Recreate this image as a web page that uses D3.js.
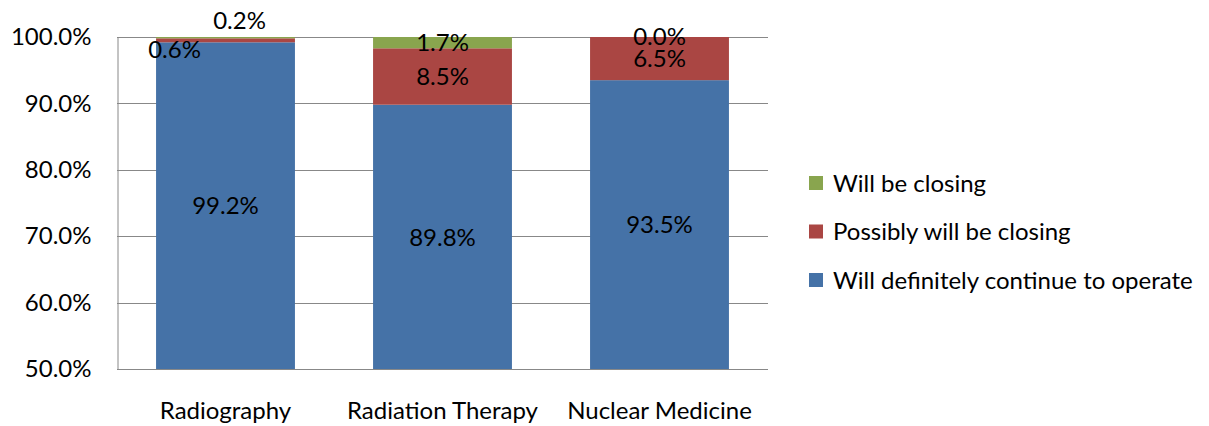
<!DOCTYPE html>
<html>
<head>
<meta charset="utf-8">
<script src="https://cdn.jsdelivr.net/npm/d3@7"></script>
<style>
  body { margin: 0; background: #fff; }
  svg text { font-family: Lato, "Open Sans", sans-serif; fill: #000; }
</style>
</head>
<body>
<div id="chart"></div>
<script>
// Stacked 100% bars, axis starts at 50%
const categories = ['Radiography', 'Radiation Therapy', 'Nuclear Medicine'];
const seriesNames = ['Will definitely continue to operate', 'Possibly will be closing', 'Will be closing'];
const continueVals = [99.2, 89.8, 93.5];
const possiblyVals = [0.6, 8.5, 6.5];
const closingVals = [0.2, 1.7, 0.0];
const yTicks = [50, 60, 70, 80, 90, 100];
const colors = ['#4572a7', '#aa4643', '#89a54e'];

const width = 1209, height = 426;
const margin = { top: 37, right: 441, bottom: 57, left: 117 };

const svg = d3.select('#chart')
  .append('svg')
  .attr('width', width)
  .attr('height', height);

const x = d3.scaleBand()
  .domain(categories)
  .range([margin.left, width - margin.right])
  .paddingInner(0.36)
  .paddingOuter(0.18);

const y = d3.scaleLinear()
  .domain([50, 100])
  .range([height - margin.bottom, margin.top]);

// gridlines
svg.append('g')
  .selectAll('line')
  .data(yTicks)
  .join('line')
  .attr('x1', margin.left)
  .attr('x2', width - margin.right)
  .attr('y1', d => Math.round(y(d)) + 0.5)
  .attr('y2', d => Math.round(y(d)) + 0.5)
  .attr('stroke', '#888')
  .attr('stroke-width', 1);

// y axis
const yAxis = svg.append('g')
  .attr('transform', `translate(${margin.left + 0.5},0)`)
  .call(d3.axisLeft(y).tickValues(yTicks).tickSize(0).tickPadding(26)
    .tickFormat(d => d.toFixed(1) + '%'));
yAxis.select('.domain').attr('stroke', '#888');
yAxis.selectAll('text').style('font-size', '24px').attr('fill', '#000');

// stack
const rows = categories.map((c, i) => ({
  cat: c,
  s0: continueVals[i],
  s1: possiblyVals[i],
  s2: closingVals[i]
}));
const stacked = d3.stack().keys(['s0', 's1', 's2'])(rows);

// small labels that were dragged apart by hand in the original
const nudge = { 's2-0': [14, -17], 's1-0': [-51, 9], 's2-2': [0, -1] };

stacked.forEach((layer, si) => {
  svg.append('g')
    .selectAll('rect')
    .data(layer)
    .join('rect')
    .attr('x', d => x(d.data.cat))
    .attr('y', d => y(d[1]))
    .attr('width', x.bandwidth())
    .attr('height', d => Math.max(0, y(Math.max(d[0], 50)) - y(d[1])))
    .attr('fill', colors[si]);
});

stacked.forEach((layer, si) => {
  const off = i => nudge[layer.key + '-' + i] || [0, 0];
  svg.append('g')
    .selectAll('text')
    .data(layer)
    .join('text')
    .attr('x', (d, i) => x(d.data.cat) + x.bandwidth() / 2 + off(i)[0])
    .attr('y', (d, i) => (y(Math.max(d[0], 50)) + y(d[1])) / 2 + off(i)[1])
    .attr('dy', '0.36em')
    .attr('text-anchor', 'middle')
    .style('font-size', '24px')
    .text(d => (d[1] - d[0]).toFixed(1) + '%');
});

// x labels
svg.append('g')
  .selectAll('text')
  .data(categories)
  .join('text')
  .attr('x', d => x(d) + x.bandwidth() / 2)
  .attr('y', 410)
  .attr('dy', '0.36em')
  .attr('text-anchor', 'middle')
  .style('font-size', '24px')
  .text(d => d);

// legend (top to bottom: reverse order)
const legendItems = [2, 1, 0];
const legend = svg.append('g')
  .selectAll('g')
  .data(legendItems)
  .join('g')
  .attr('transform', (d, i) => `translate(809,${183 + i * 48.5})`);
legend.append('rect')
  .attr('x', 0).attr('y', -7)
  .attr('width', 14).attr('height', 14)
  .attr('fill', d => colors[d]);
legend.append('text')
  .attr('x', 24)
  .attr('dy', '0.36em')
  .style('font-size', '24px')
  .text(d => seriesNames[d]);
</script>
</body>
</html>
